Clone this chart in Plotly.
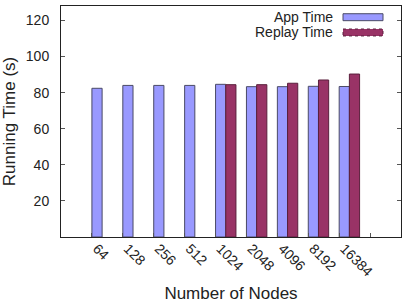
import plotly.graph_objects as go

nodes = ["64", "128", "256", "512", "1024", "2048", "4096", "8192", "16384"]
app_time = [82.4, 84.0, 84.0, 84.0, 84.6, 83.3, 83.3, 83.5, 83.4]
replay_time = [None, None, None, None, 84.4, 84.4, 85.2, 87.0, 90.3]

ytick_vals = [20, 40, 60, 80, 100, 120]

w = 0.33
xs = list(range(len(nodes)))
font = "Liberation Sans, Arial, sans-serif"

fig = go.Figure()
fig.add_trace(go.Bar(
    x=xs, y=app_time, name="App Time", offset=0, width=w,
    marker=dict(color="#9999ff", line=dict(color="#4a4a66", width=1)),
))
fig.add_trace(go.Bar(
    x=xs, y=replay_time, name="Replay Time", offset=w, width=w,
    marker=dict(color="#993366", line=dict(color="#5a1f3c", width=1)),
))

tickvals = list(range(len(nodes) + 1))
ticktext = nodes + [""]

fig.update_layout(
    width=410, height=304,
    margin=dict(l=61, r=9, t=5, b=66),
    paper_bgcolor="white", plot_bgcolor="white",
    barmode="overlay", showlegend=False,
    font=dict(family=font, size=14, color="#222222"),
    xaxis=dict(
        range=[-1, 10], tickvals=tickvals, ticktext=ticktext,
        tickangle=45, ticks="inside", ticklen=4, tickcolor="#555555",
        showline=True, linecolor="#222222", linewidth=1, mirror=True,
        showgrid=False, zeroline=False,
        ticklabelshift=5, ticklabelstandoff=-3,
        title=dict(text="Number of Nodes", standoff=8),
    ),
    yaxis=dict(
        range=[0, 128], tickvals=ytick_vals,
        ticks="inside", ticklen=4, tickcolor="#555555",
        showline=True, linecolor="#222222", linewidth=1, mirror="ticks",
        showgrid=False, zeroline=False, ticklabelstandoff=8,
        title=dict(text="Running Time (s)", standoff=8),
    ),
)

# gnuplot-style key: text right-aligned, swatch to its right
legend_items = [("App Time", "#9999ff", "#4a4a66"), ("Replay Time", "#993366", "#5a1f3c")]
for i, (label, fill, edge) in enumerate(legend_items):
    yc = 1 - (16.3 + 15.4 * i - 5) / 233.0
    fig.add_annotation(
        xref="paper", yref="paper", x=(335 - 61) / 340.0, y=yc,
        text=label, showarrow=False, xanchor="right", yanchor="middle",
        font=dict(family=font, size=14, color="#222222"),
    )
    fig.add_shape(
        type="rect", xref="paper", yref="paper",
        x0=(343 - 61) / 340.0, x1=(383 - 61) / 340.0,
        y0=yc - 3.5 / 233.0, y1=yc + 3.5 / 233.0,
        fillcolor=fill, line=dict(color=edge, width=1, dash="dot" if i else "solid"),
    )

fig.write_html("out.html")
